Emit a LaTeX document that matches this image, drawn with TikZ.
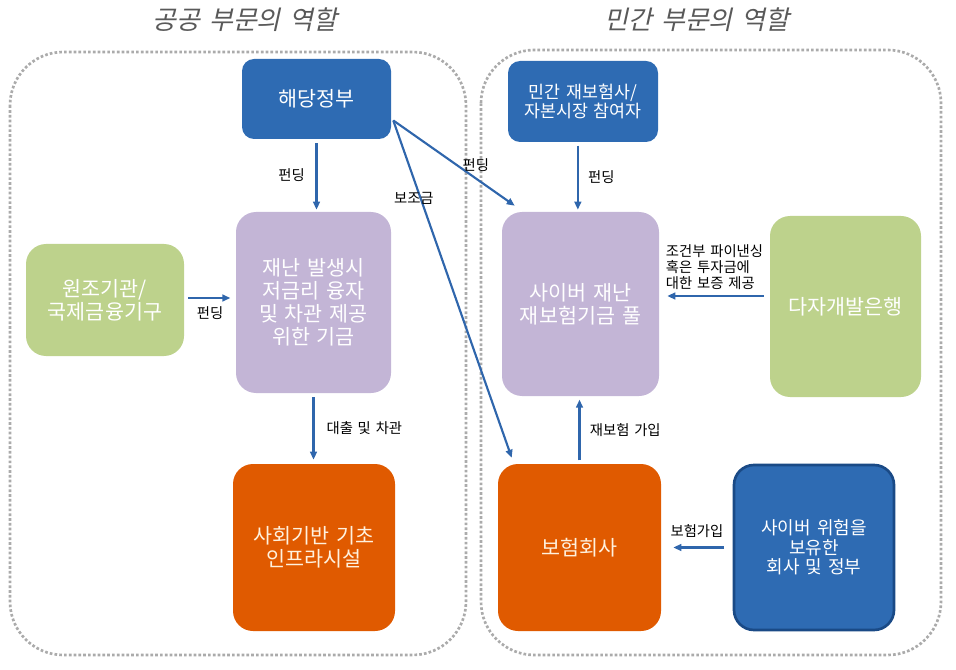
\documentclass[tikz,border=0pt]{standalone}
\usepackage{fontspec}
\setmainfont[WordSpace=1.5]{Noto Sans CJK KR}
\newfontfamily\titlefont[FakeSlant=0.22, WordSpace=1.5]{Noto Sans CJK KR}
\usetikzlibrary{arrows.meta, positioning, calc}
\definecolor{govBlue}{HTML}{2E6BB3}
\definecolor{navyLine}{HTML}{1A4A86}
\definecolor{fundPurple}{HTML}{C3B5D6}
\definecolor{donorGreen}{HTML}{BDD28C}
\definecolor{infraOrange}{HTML}{E05A00}
\definecolor{arrowBlue}{HTML}{2F66AC}
\definecolor{zoneGray}{HTML}{ABABAB}
\definecolor{titleGray}{HTML}{595959}
\definecolor{textCream}{HTML}{FFF1DE}
\tikzset{
  arrowB/.style={-{Triangle[length=6pt, width=5pt]}, color=arrowBlue, line width=1.6pt},
  boxBase/.style={rectangle, rounded corners=15pt, inner sep=0pt, align=center,
                  text=white, font=\fontsize{15.5}{17.2}\selectfont},
  boxBlue/.style={boxBase, fill=govBlue, rounded corners=9pt},
  boxNavy/.style={boxBase, fill=govBlue, draw=navyLine, line width=2pt,
                  font=\fontsize{13.5}{14.5}\selectfont},
  boxPurple/.style={boxBase, fill=fundPurple},
  boxGreen/.style={boxBase, fill=donorGreen},
  boxOrange/.style={boxBase, fill=infraOrange, text=textCream},
  zoneBox/.style={draw=zoneGray, line width=2pt, dash pattern=on 2pt off 1.6pt,
                  rounded corners=40pt},
  zoneTitle/.style={font=\titlefont\fontsize{19.5}{22}\selectfont, text=titleGray},
  lbl/.style={font=\fontsize{10.75}{12}\selectfont, text=black, inner sep=1pt},
}
\begin{document}
\begin{tikzpicture}[x=0.75pt, y=-0.75pt]
  \useasboundingbox (0,0) rectangle (956,670);
  \draw[zoneBox] (10,52) rectangle (466,655);
  \draw[zoneBox] (481,50) rectangle (941,655);
  \node[zoneTitle] (pubT) at (245,20) {공공 부문의 역할};
  \node[zoneTitle] (priT) at (697,20) {민간 부문의 역할};

  \node[boxBlue, minimum width=111.75pt, minimum height=60pt] (gov) at (316.5,99) {해당정부};
  \node[boxBlue, minimum width=112.5pt, minimum height=60.75pt,
        font=\fontsize{13}{14}\selectfont] (reins) at (583,101.5) {민간 재보험사/\\자본시장 참여자};
  \node[boxPurple, minimum width=116.25pt, minimum height=135.75pt] (loanFund) at (313.5,302.5)
        {재난 발생시\\저금리 융자\\및 차관 제공\\위한 기금};
  \node[boxGreen, minimum width=118.5pt, minimum height=84pt] (donor) at (105,300)
        {원조기관/\\국제금융기구};
  \node[boxPurple, minimum width=117.75pt, minimum height=138pt] (pool) at (580.5,304)
        {사이버 재난\\재보험기금 풀};
  \node[boxGreen, minimum width=113.25pt, minimum height=135.75pt] (mdb) at (845.5,306.5)
        {다자개발은행};
  \node[boxOrange, minimum width=121.5pt, minimum height=125.25pt] (infra) at (314,547.5)
        {사회기반 기초\\인프라시설};
  \node[boxOrange, minimum width=122.25pt, minimum height=125.25pt] (insurer) at (579.5,547.5)
        {보험회사};
  \node[boxNavy, minimum width=120pt, minimum height=123.75pt] (holders) at (814,547.5)
        {사이버 위험을\\보유한\\회사 및 정부};

  \draw[arrowB, shorten <=3pt, shorten >=1.5pt] (gov.south) -- (gov.south |- loanFund.north)
    node[lbl, midway, left=7pt] {펀딩};
  \draw[arrowB, shorten <=3pt, shorten >=4pt] ([yshift=1.5pt]donor.east) -- ([yshift=1.5pt]donor.east -| loanFund.west)
    node[lbl, midway, below=5pt] {펀딩};
  \draw[arrowB, shorten <=3pt, shorten >=3pt] (loanFund.south) -- (loanFund.south |- infra.north)
    node[lbl, midway, right=8pt] {대출 및 차관};
  \draw[arrowB] ([xshift=1.5pt]gov.-16) -- ($(pool.north west)+(13,-6)$)
    node[lbl, pos=0.68, above=3pt] {펀딩};
  \draw[arrowB] ([xshift=1.5pt]gov.-16) -- ($(insurer.north west)+(14,-6)$)
    node[lbl, pos=0.23, xshift=-5pt] {보조금};
  \draw[arrowB, shorten <=2.5pt, shorten >=1.5pt] ([xshift=-2pt]pool.north |- reins.south) -- ([xshift=-2pt]pool.north)
    node[lbl, midway, right=6pt] {펀딩};
  \draw[arrowB, shorten <=4.5pt, shorten >=6pt] ([yshift=6pt]pool.east -| mdb.west) -- ([yshift=6pt]pool.east)
    node[lbl, midway, above=3pt, align=left] {조건부 파이낸싱\\혹은 투자금에\\대한 보증 제공};
  \draw[arrowB, shorten <=2.5pt, shorten >=2.5pt] (insurer.north) -- (insurer.north |- pool.south)
    node[lbl, midway, right=6pt] {재보험 가입};
  \draw[arrowB, shorten <=6.5pt, shorten >=9pt] (holders.west) -- (insurer.east)
    node[lbl, midway, above=6pt] {보험가입};
\end{tikzpicture}
\end{document}
